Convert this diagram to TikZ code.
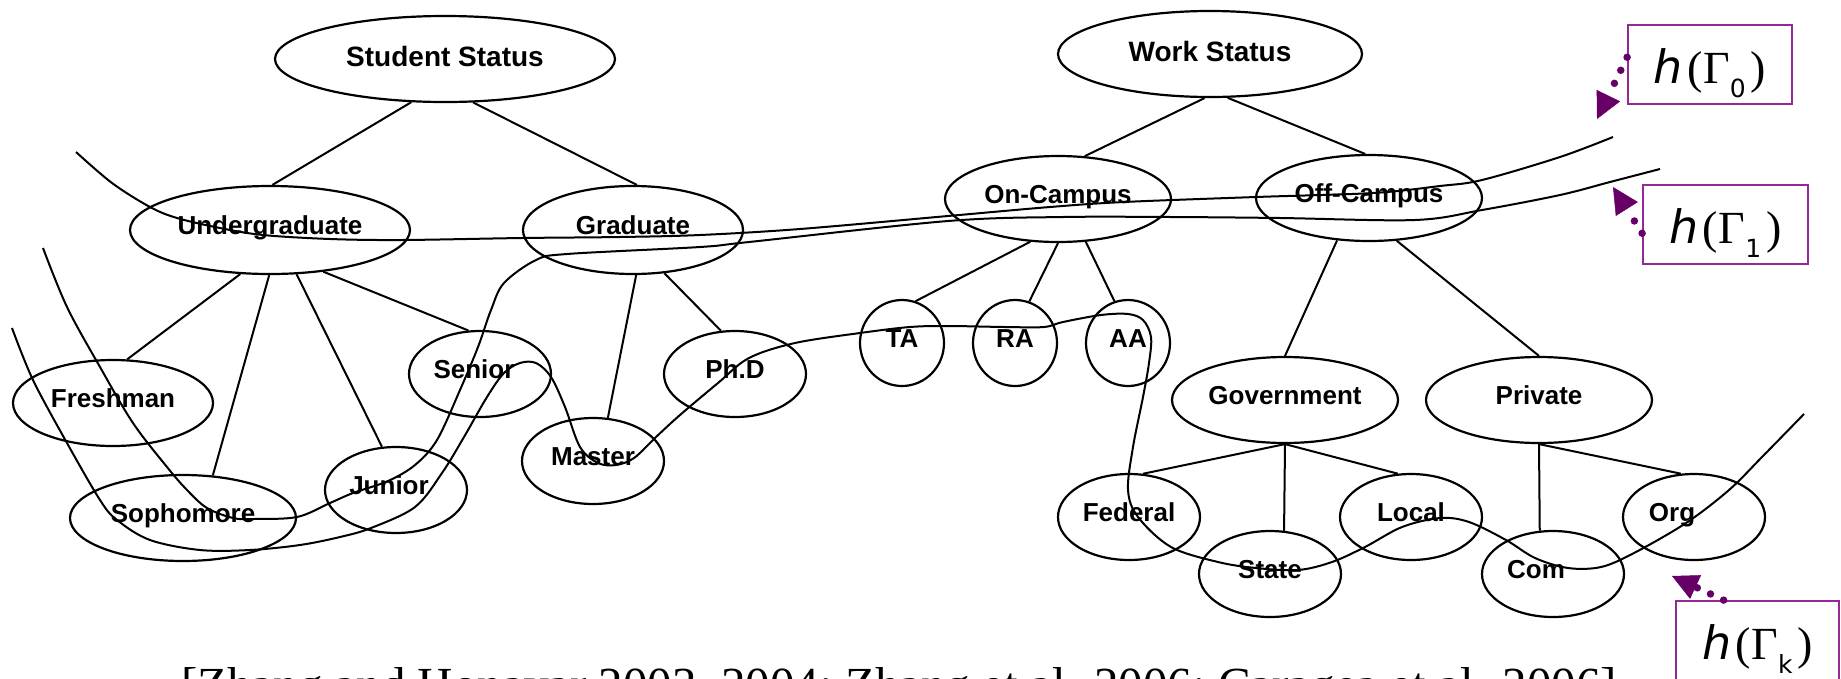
\documentclass[tikz,border=0pt]{standalone}
\usepackage{fontspec}
\setmainfont{Liberation Sans}
\newfontfamily\nodefont{Liberation Sans}
\newfontfamily\citefont{Liberation Serif}
\newfontfamily\hfont{DejaVu Sans}
\usetikzlibrary{shapes.geometric,arrows.meta}
\definecolor{boxpurple}{RGB}{150,40,150}
\definecolor{arrowpurple}{RGB}{102,0,102}
% h(Gamma_#1) as set in the labels
\newcommand\hgam[1]{{\hfont\itshape h}\kern4pt{\citefont(\kern1ptΓ}\raisebox{-14pt}{\hfont\fontsize{25}{25}\selectfont #1}\kern5pt{\citefont)}}
\begin{document}
\begin{tikzpicture}[x=1pt,y=-1pt,
  concept/.style={ellipse, draw, line width=2.2pt, inner sep=0pt, minimum height=86pt,
    font=\nodefont\bfseries\fontsize{26}{30}\selectfont, text height=18.6pt, text depth=10pt},
  rootconcept/.style={concept, font=\nodefont\bfseries\fontsize{28}{32}\selectfont,
    text height=20pt, text depth=5pt},
  edge/.style={line width=2pt},
  cut/.style={line width=2pt, smooth, tension=0.55},
  hbox/.style={draw=boxpurple, line width=1.8pt, minimum width=164pt, minimum height=79pt,
    inner sep=0pt, font=\fontsize{46}{50}\selectfont, text height=40pt, text depth=3pt},
  pointer/.style={draw=arrowpurple, line width=7.5pt, line cap=round,
    dash pattern=on 0pt off 14.5pt,
    -{Triangle[length=26pt,width=26pt,line width=0.5pt,fill=arrowpurple]}}
]
\useasboundingbox (0,0) rectangle (1841,678);
\clip (0,0) rectangle (1841,678);

% student status hierarchy
\node[rootconcept, minimum width=340pt] (ss) at (445,59) {Student Status};
\node[concept, minimum width=280pt, minimum height=88pt] (ug) at (270,230) {Undergraduate};
\node[concept, minimum width=220pt, minimum height=88pt] (gr) at (633,230) {Graduate};
\node[concept, minimum width=200pt] (fr) at (113,403) {Freshman};
\node[concept, minimum width=226pt] (so) at (183,518) {Sophomore};
\node[concept, minimum width=142pt] (ju) at (396,490) {Junior\kern14pt};
\node[concept, minimum width=142pt] (se) at (480,374) {Senior\kern12pt};
\node[concept, minimum width=142pt] (ma) at (593,461) {Master};
\node[concept, minimum width=142pt] (phd) at (735,374) {Ph.D};

% work status hierarchy
\node[rootconcept, minimum width=304pt] (ws) at (1210,54) {Work Status};
\node[concept, minimum width=226pt] (oc) at (1058,199) {On-Campus};
\node[concept, minimum width=226pt] (ofc) at (1369,198) {Off-Campus};
\node[concept, minimum width=84pt] (ta) at (902,343) {TA};
\node[concept, minimum width=84pt] (ra) at (1015,343) {RA};
\node[concept, minimum width=84pt] (aa) at (1128,343) {AA};
\node[concept, minimum width=226pt] (gov) at (1285,400) {Government};
\node[concept, minimum width=226pt] (pri) at (1539,400) {Private};
\node[concept, minimum width=142pt] (fed) at (1129,517) {Federal};
\node[concept, minimum width=142pt] (sta) at (1270,574) {State};
\node[concept, minimum width=142pt] (loc) at (1411,517) {Local};
\node[concept, minimum width=142pt] (com) at (1553,574) {Com\kern34pt};
\node[concept, minimum width=142pt] (org) at (1694,517) {Org\kern44pt};

% tree edges
\draw[edge] (ss.232) -- (ug.87);
\draw[edge] (ss.303) -- (gr.85);
\draw[edge] (ug.236) -- (fr.72);
\draw[edge] (ug.269) -- (so.55);
\draw[edge] (ug.301) -- (ju.108);
\draw[edge] (ug.322) -- (se.105);
\draw[edge] (gr.274) -- (ma.71);
\draw[edge] (gr.306) -- (phd.108);
\draw[edge] (ws.263) -- (oc.58);
\draw[edge] (ws.292) -- (ofc.95);
\draw[edge] (oc.237) -- (ta.72);
\draw[edge] (oc.270) -- (ra.71);
\draw[edge] (oc.303) -- (aa.108);
\draw[edge] (ofc.233) -- (gov.90);
\draw[edge] (ofc.303) -- (pri.90);
\draw[edge] (gov.270) -- (fed.72);
\draw[edge] (gov.270) -- (sta.72);
\draw[edge] (gov.270) -- (loc.107);
\draw[edge] (pri.270) -- (com.107);
\draw[edge] (pri.270) -- (org.107);

% cuts through the two hierarchies
\draw[cut] plot coordinates {(76,152) (112,183) (150,207) (177,218) (220,228) (263,235)
  (330,239) (402,240) (522,238) (620,237) (700,235) (800,229) (948,216) (1050,207)
  (1124,202) (1256,197) (1373,193) (1440,186) (1482,180) (1560,157) (1613,137)};
\draw[cut] plot coordinates {(43,248) (67,307) (100,367) (133,423) (167,467) (187,490)
  (207,508) (233,518) (253,519) (297,517) (330,503) (353,493) (388,481) (415,465)
  (437,440) (460,390) (478,347) (491,310) (504,283) (536,260) (567,254) (700,247)
  (749,242) (948,221) (1063,217) (1171,217) (1280,218) (1415,220) (1482,210)
  (1560,195) (1610,182) (1660,169)};
\draw[cut] plot coordinates {(12,328) (33,380) (67,443) (100,500) (117,520) (150,540)
  (200,550) (250,550) (300,545) (340,537) (371,528) (415,507) (442,473) (464,437)
  (487,397) (504,373) (520,363) (536,363) (551,377) (565,407) (580,447) (598,463)
  (616,465) (634,458) (656,437) (680,415) (718,383) (749,358) (795,343) (860,333)
  (910,327) (948,326) (1005,327) (1044,327) (1063,322) (1101,315) (1128,314)
  (1143,320) (1151,337) (1149,363) (1143,397) (1133,447) (1128,490) (1138,517)
  (1171,547) (1218,562) (1256,568) (1298,570) (1332,562) (1365,547) (1402,527)
  (1440,518) (1469,522) (1506,540) (1535,558) (1568,568) (1601,567) (1634,553)
  (1686,523) (1729,490) (1762,457) (1804,414)};

% cut labels
\node[hbox] (g0) at (1710,64.5) {\hgam{0}};
\node[hbox, minimum width=165pt] (g1) at (1725.5,224.5) {\hgam{1}};
\node[hbox, minimum width=163pt] (gk) at (1757.5,640.5) {\hgam{k}};
\coordinate (t0) at (1597,119);
\coordinate (t1) at (1613,187);
\coordinate (tk) at (1672,576);
\draw[pointer] (g0.175) -- (t0);
\draw[pointer] (g1.186) -- (t1);
\draw[pointer] (gk.130) -- (tk);

% reference line
\node[anchor=base west, inner sep=0pt, font=\citefont\fontsize{49}{58}\selectfont] (cite)
  at (181,701) {[Zhang and Honavar 2003, 2004; Zhang et al. 2006; Caragea et al. 2006]};
\end{tikzpicture}
\end{document}
